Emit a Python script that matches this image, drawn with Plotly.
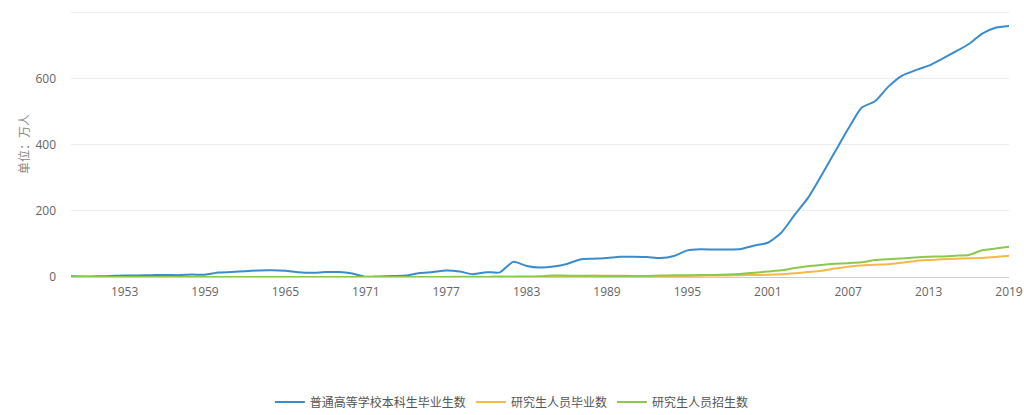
import plotly.graph_objects as go

# 年份 1949-2019
years = list(range(1949, 2020))

# 普通高等学校本科生毕业生数（万人）
undergrad_grad = [
    2.1, 1.8, 1.9, 3.2, 4.8, 4.7, 5.5, 6.3, 5.6, 7.2,
    7.0, 13.6, 15.1, 17.7, 19.9, 20.4, 18.6, 14.1, 12.5, 15.0,
    15.0, 10.3, 0.6, 1.7, 3.0, 4.3, 11.9, 14.9, 19.4, 16.5,
    8.5, 14.7, 14.0, 45.7, 33.5, 28.7, 31.6, 39.3, 53.2, 55.3,
    57.6, 61.4, 61.4, 60.4, 57.1, 63.7, 80.5, 83.9, 82.9, 83.0,
    84.8, 95.0, 103.6, 133.7, 187.7, 239.1, 306.8, 377.5, 447.8, 511.9,
    531.1, 575.4, 608.2, 624.7, 638.7, 659.4, 680.9, 704.2, 735.8, 753.3,
    758.5,
]

# 研究生人员毕业数（万人）
postgrad_grad = [
    0.01, 0.01, 0.01, 0.06, 0.12, 0.07, 0.17, 0.23, 0.17, 0.11,
    0.08, 0.04, 0.11, 0.10, 0.09, 0.09, 0.17, 0.04, 0.0, 0.0,
    0.0, 0.0, 0.0, 0.0, 0.0, 0.0, 0.0, 0.0, 0.0, 0.0,
    0.01, 0.05, 1.17, 0.41, 0.45, 0.28, 1.70, 1.70, 2.76, 4.08,
    3.72, 3.54, 3.25, 2.57, 2.82, 2.80, 3.19, 3.97, 4.65, 4.71,
    5.47, 5.88, 6.78, 8.08, 11.11, 15.08, 18.97, 25.59, 31.18, 34.48,
    37.13, 38.36, 43.00, 48.65, 51.36, 53.59, 55.15, 56.39, 57.80, 60.44,
    63.97,
]

# 研究生人员招生数（万人）
postgrad_enroll = [
    0.02, 0.09, 0.13, 0.18, 0.29, 0.12, 0.18, 0.48, 0.03, 0.23,
    0.13, 0.23, 0.22, 0.13, 0.08, 0.12, 0.15, 0.0, 0.0, 0.0,
    0.0, 0.0, 0.0, 0.0, 0.0, 0.0, 0.0, 0.0, 0.0, 1.07,
    0.81, 0.36, 0.94, 1.11, 1.56, 2.32, 4.69, 4.13, 3.90, 3.56,
    2.86, 2.96, 2.97, 3.34, 4.21, 5.09, 5.11, 5.94, 6.37, 7.25,
    9.22, 12.85, 16.52, 20.26, 26.89, 32.63, 36.48, 39.79, 41.86, 44.64,
    51.10, 53.82, 56.02, 58.97, 61.14, 62.13, 64.51, 66.71, 80.61, 85.80,
    91.65,
]

x_ticks = list(range(1953, 2020, 6))
y_ticks = [0, 200, 400, 600, 800]
y_tick_text = ['0', '200', '400', '600', '']

series = [
    ('普通高等学校本科生毕业生数', undergrad_grad, '#3a8ccd'),
    ('研究生人员毕业数', postgrad_grad, '#f5b84a'),
    ('研究生人员招生数', postgrad_enroll, '#8cc84b'),
]

fig = go.Figure()
for name, values, color in series:
    fig.add_trace(go.Scatter(
        x=years, y=values, mode='lines', name=name,
        line=dict(color=color, width=2, shape='spline', smoothing=0.6),
    ))

fig.update_layout(
    width=1024,
    height=415,
    autosize=False,
    paper_bgcolor='white',
    plot_bgcolor='white',
    font=dict(family='Open Sans, Noto Sans CJK SC', size=12, color='#666'),
    margin=dict(l=71, r=15, t=11, b=138, autoexpand=False),
    xaxis=dict(
        range=[1949, 2019],
        tickvals=x_ticks,
        showgrid=False,
        zeroline=False,
        showline=False,
        ticks='',
        ticklabelstandoff=6,
        automargin=False,
        tickfont=dict(size=12, color='#666'),
    ),
    yaxis=dict(
        range=[0, 804],
        tickvals=y_ticks,
        ticktext=y_tick_text,
        showgrid=True,
        gridcolor='#ececec',
        gridwidth=1,
        zeroline=True,
        zerolinecolor='#cccccc',
        zerolinewidth=1,
        showline=False,
        ticks='',
        ticklabelstandoff=14,
        automargin=False,
        tickfont=dict(size=12, color='#666'),
        title=dict(text='单位：万人', font=dict(family='Noto Sans CJK SC', size=12, color='#888'), standoff=3),
    ),
    showlegend=True,
    legend=dict(
        orientation='h',
        x=0.47, xanchor='center',
        y=-0.47, yanchor='middle',
        font=dict(family='Noto Sans CJK SC', size=12, color='#555'),
        itemwidth=30,
    ),
)

fig.write_html('out.html', config={'displayModeBar': False},
               post_script="document.body.style.margin='0';")
